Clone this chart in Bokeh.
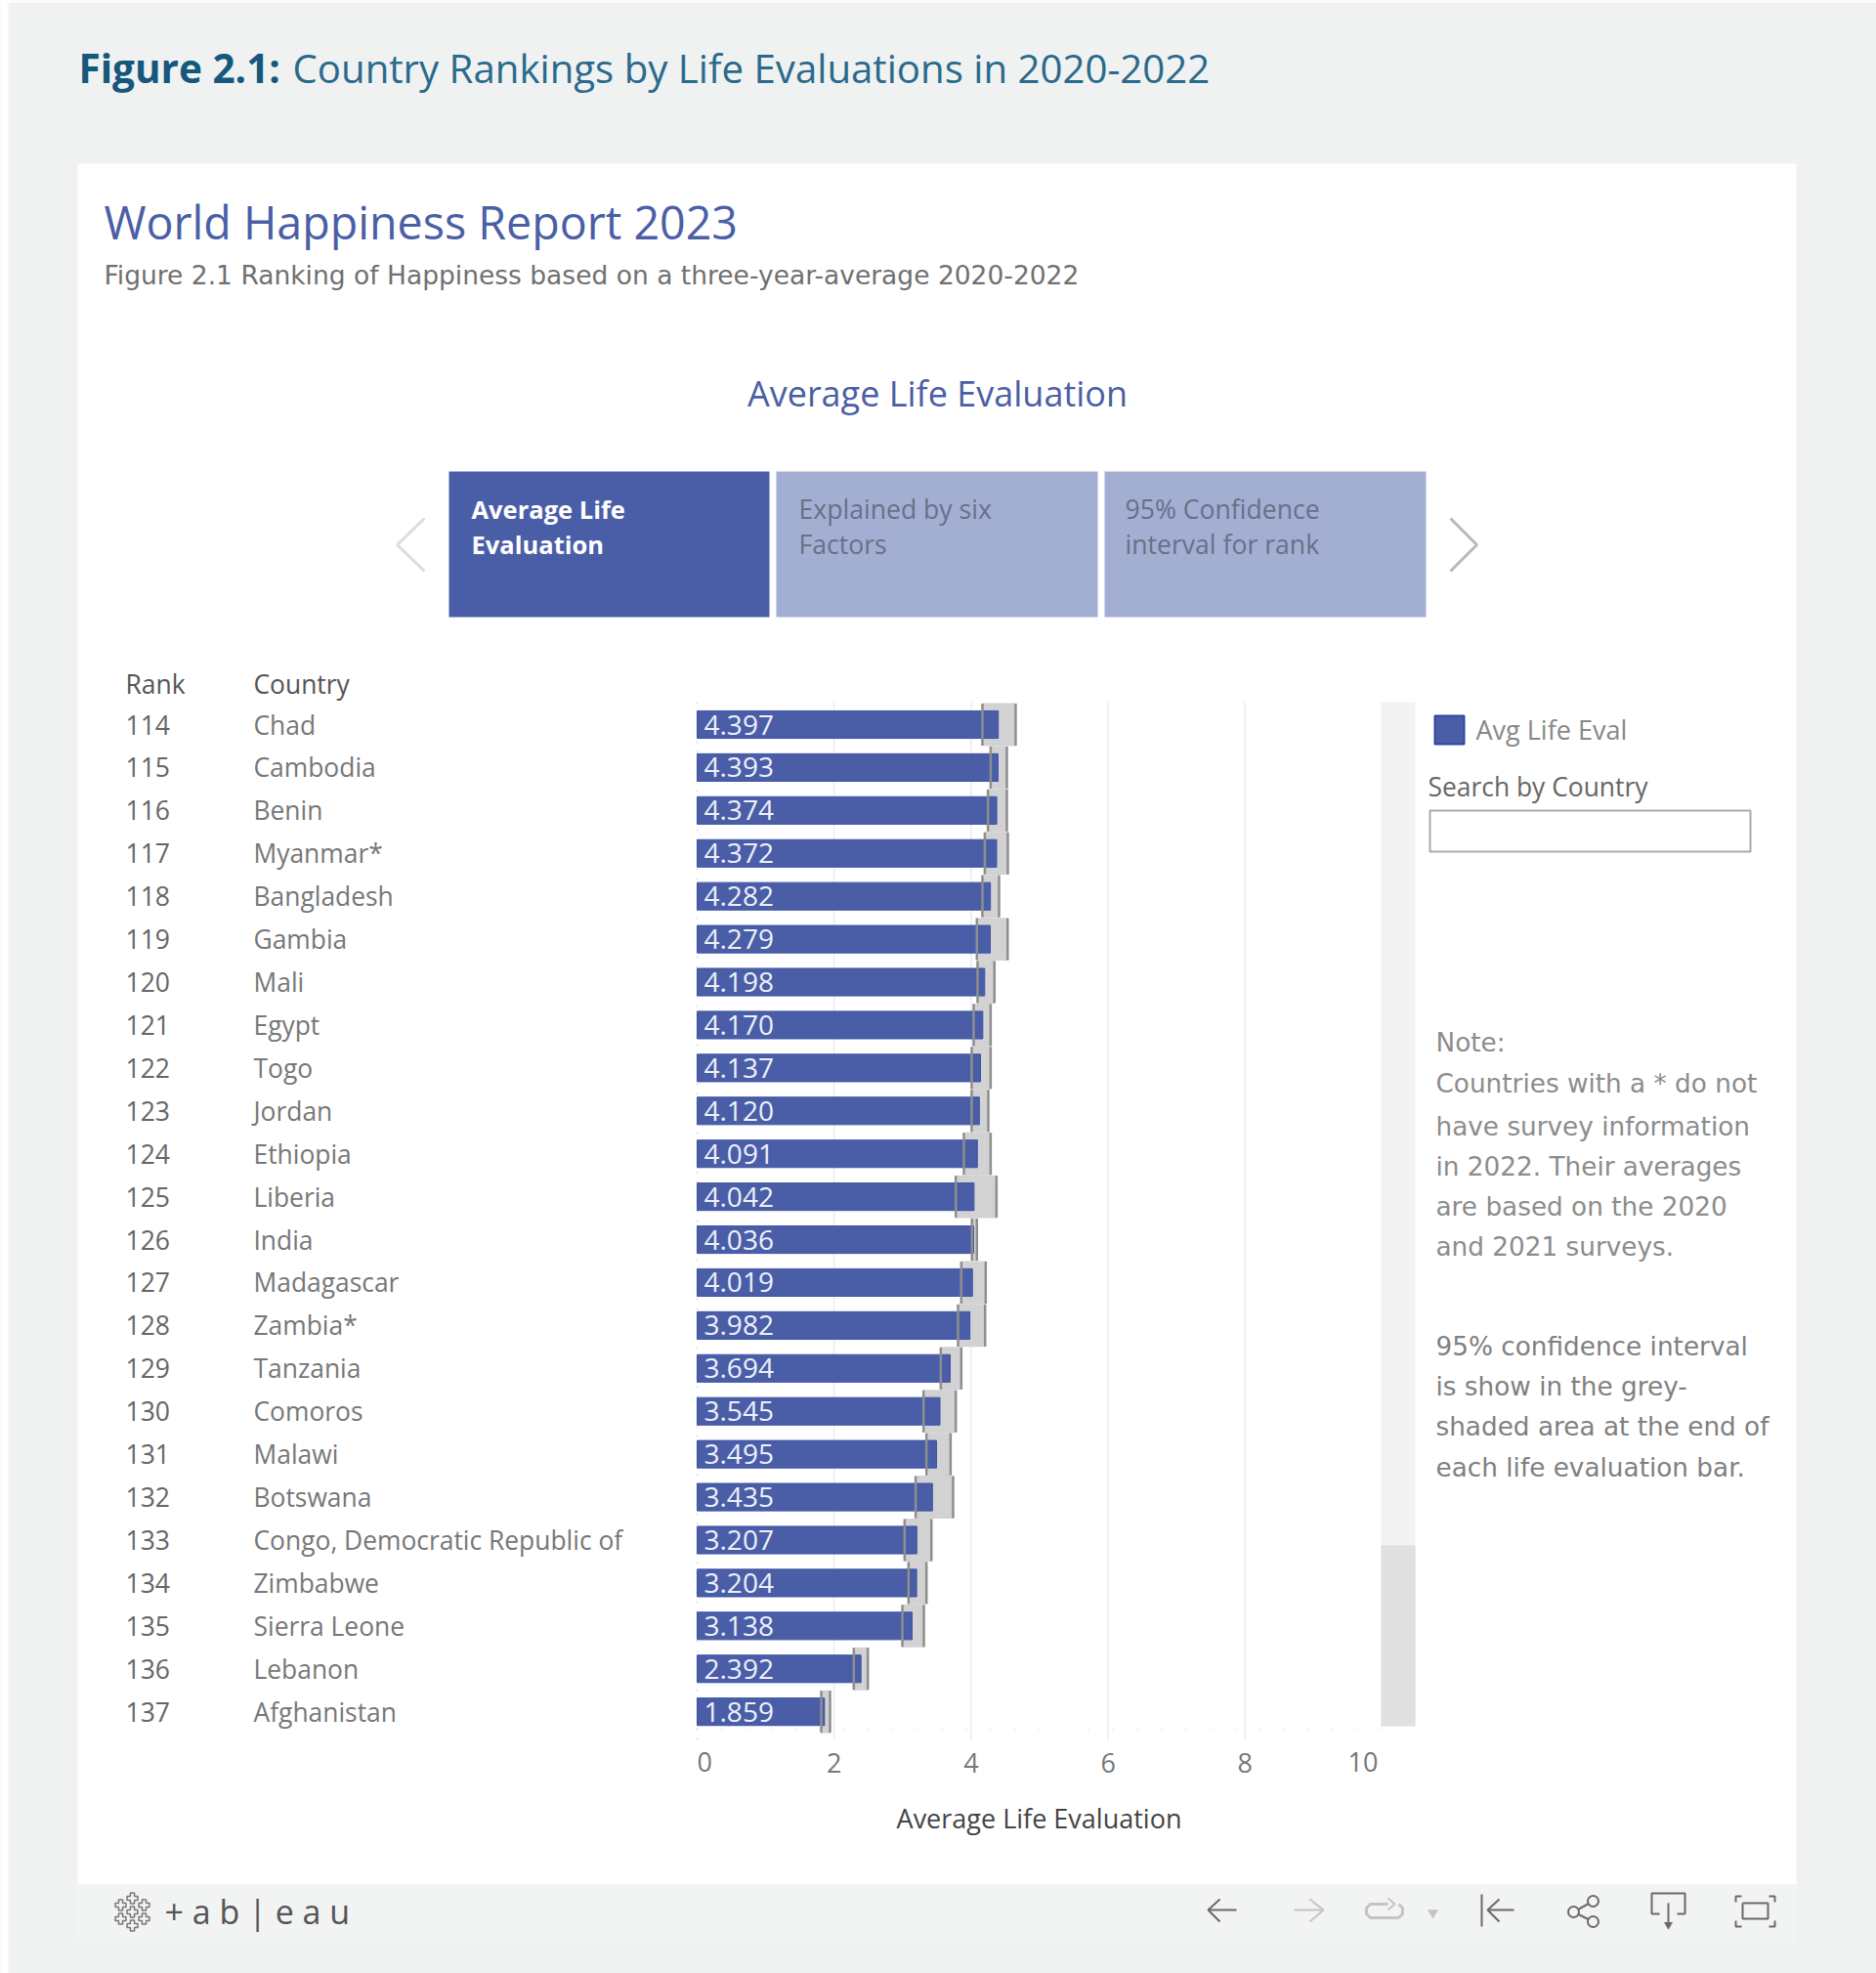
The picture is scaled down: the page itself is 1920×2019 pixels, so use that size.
from bokeh.plotting import figure
from bokeh.models import Range1d, LinearAxis, FixedTicker
from bokeh.core.properties import value
from bokeh.embed import file_html
from bokeh.resources import INLINE
import numpy as np

ranks = list(range(114, 138))
countries = ["Chad", "Cambodia", "Benin", "Myanmar*", "Bangladesh", "Gambia", "Mali", "Egypt", "Togo",
             "Jordan", "Ethiopia", "Liberia", "India", "Madagascar", "Zambia*", "Tanzania", "Comoros",
             "Malawi", "Botswana", "Congo, Democratic Republic of", "Zimbabwe", "Sierra Leone", "Lebanon",
             "Afghanistan"]
life_eval = [4.397, 4.393, 4.374, 4.372, 4.282, 4.279, 4.198, 4.170, 4.137, 4.120, 4.091, 4.042,
             4.036, 4.019, 3.982, 3.694, 3.545, 3.495, 3.435, 3.207, 3.204, 3.138, 2.392, 1.859]
ci_low = [4.165, 4.285, 4.246, 4.200, 4.165, 4.084, 4.094, 4.037, 4.008, 4.008, 3.894, 3.776,
          4.013, 3.856, 3.809, 3.557, 3.305, 3.348, 3.190, 3.029, 3.086, 2.996, 2.287, 1.812]
ci_high = [4.650, 4.522, 4.522, 4.536, 4.408, 4.533, 4.340, 4.285, 4.285, 4.251, 4.285, 4.370,
           4.084, 4.213, 4.204, 3.856, 3.776, 3.700, 3.737, 3.420, 3.348, 3.310, 2.492, 1.940]
mid_ticks = [2, 4, 6, 8]
first_tick = [0]
last_tick = [10]
note_lines = ["Note:", "Countries with a * do not", "have survey information", "in 2022. Their averages",
              "are based on the 2020", "and 2021 surveys."]
ci_lines = ["95% confidence interval", "is show in the grey-", "shaded area at the end of",
            "each life evaluation bar."]

BG = "#f0f2f2"
BLUE = "#4a5ea8"
PALE = "#a3aed3"
FONT = "Open Sans"
WIDE = "DejaVu Sans"

# Page geometry: screen pixels of the x=0 gridline and of the first row
X0, PX_PER_UNIT = 713.0, 70.1
Y0, PX_PER_RANK = 741.0, 43.92
L, T, R, B = 0, 0, 1920, 2019


def rank_at(px):
    return ranks[0] + (px - Y0) / PX_PER_RANK


p = figure(width=R - L, height=B - T, output_backend="svg", toolbar_location=None,
           x_range=Range1d((L - X0) / PX_PER_UNIT, (R - X0) / PX_PER_UNIT),
           y_range=Range1d(rank_at(B), rank_at(T)),
           x_axis_type=None, y_axis_type=None, min_border=0,
           background_fill_color=BG, border_fill_color=BG, outline_line_color=None)
p.grid.visible = False
p.extra_x_ranges["px"] = Range1d(L, R)
p.extra_y_ranges["px"] = Range1d(B, T)
PX = dict(x_range_name="px", y_range_name="px")


def box(x0, y0, x1, y1, fill, line=None, width=1):
    p.quad(left=[x0], right=[x1], top=[y0], bottom=[y1], fill_color=fill,
           line_color=line, line_width=width, **PX)


def txt(x, y, s, size, color, style="normal", align="left", font=FONT):
    p.text(x=[x], y=[y], text=[s], text_font=value(font), text_font_size=f"{size}px",
           text_color=color, text_font_style=style, text_align=align,
           text_baseline="middle", **PX)


def path(xs, ys, color, width=2):
    p.line(xs, ys, line_color=color, line_width=width, **PX)


# Panels
box(0, 0, 8, 2019, "#ffffff")
box(0, 0, 1920, 2, "#ffffff")
box(79, 167, 1838, 1928, "#ffffff")
box(79, 1928, 1838, 1987, "#f2f3f3")

# Headings
txt(80, 69, "Figure 2.1:", 40.5, "#15587d", "bold")
txt(299, 69, "Country Rankings by Life Evaluations in 2020-2022", 40.2, "#2a6a8c")
txt(106, 226, "World Happiness Report 2023", 46.6, "#4a5fa5")
txt(106, 281, "Figure 2.1 Ranking of Happiness based on a three-year-average 2020-2022", 26.5, "#707070",
    font=WIDE)
txt(959, 402, "Average Life Evaluation", 36, "#4a5fa5", align="center")

# Tabs
box(459, 482, 787, 631, BLUE)
box(794, 482, 1123, 631, PALE)
box(1130, 482, 1459, 631, PALE)
txt(482, 520, "Average Life", 25.5, "#ffffff", "bold")
txt(482, 556, "Evaluation", 25.5, "#ffffff", "bold")
txt(817, 520, "Explained by six", 26.6, "#687088")
txt(817, 556, "Factors", 26.6, "#687088")
txt(1151, 520, "95% Confidence", 26.6, "#687088")
txt(1151, 556, "interval for rank", 26.6, "#687088")
path([434, 406, 434], [530, 557, 584], "#dcdcdc", 3)
path([1484, 1511, 1484], [530, 557, 584], "#b8b8b8", 3)

# Table
txt(128, 699, "Rank", 26.4, "#555555")
txt(259, 699, "Country", 26.4, "#555555")
p.text(x=[128] * len(ranks), y=ranks, text=[str(r) for r in ranks], text_font=value(FONT),
       text_font_size="26.5px", text_color="#666666", text_baseline="middle", x_range_name="px")
p.text(x=[259] * len(ranks), y=ranks, text=countries, text_font=value(FONT),
       text_font_size="26.4px", text_color="#777777", text_baseline="middle", x_range_name="px")

# Scrollbar
box(1413, 718, 1448, 1766, "#f3f3f3")
box(1413, 1581, 1448, 1766, "#e0e0e0")

# Gridlines
grid_y0, grid_y1 = rank_at(718), rank_at(1780)
grid_x = mid_ticks
p.segment(x0=grid_x, x1=grid_x, y0=[grid_y0] * len(grid_x), y1=[grid_y1] * len(grid_x),
          line_color="#f0f0f0", line_width=2)
p.segment(x0=first_tick, x1=first_tick, y0=[grid_y0], y1=[grid_y1],
          line_color="#e4e4e4", line_width=2, line_dash="2 8")
p.segment(x0=first_tick, x1=last_tick, y0=[rank_at(1769)], y1=[rank_at(1769)],
          line_color="#e6e6e6", line_width=2, line_dash="1 24")

# Confidence bands, bars, band edges
y = np.array(ranks, dtype=float)
p.hbar(y=ranks, left=ci_low, right=ci_high, height=1.0, fill_color="#d2d2d2", line_color=None)
p.hbar(y=ranks, left=0, right=life_eval, height=0.64, fill_color=BLUE, line_color="#3d52a4", line_width=1)
for edge in (ci_low, ci_high):
    p.segment(x0=edge, x1=edge, y0=y - 0.49, y1=y + 0.49, line_color="#8e8e8e", line_width=2.5)
p.text(x=[720] * len(ranks), y=ranks, text=[f"{v:.3f}" for v in life_eval], text_font=value(FONT),
       text_font_size="28px", text_color="#eef0f8", text_baseline="middle", x_range_name="px")

# Value axis; its end labels stay inside the plot area, as in the reference
ax = LinearAxis(ticker=FixedTicker(ticks=mid_ticks), fixed_location=rank_at(1769))
ax.major_tick_line_color = None
ax.minor_tick_line_color = None
ax.axis_line_color = None
ax.major_label_text_font = FONT
ax.major_label_text_font_size = "27px"
ax.major_label_text_color = "#777777"
ax.major_label_standoff = 18
p.add_layout(ax, "below")
for ticks, align, shift in ((first_tick, "left", 0), (last_tick, "right", -4)):
    p.text(x=ticks, y=[rank_at(1802)], text=[str(t) for t in ticks], text_font=value(FONT),
           text_font_size="27px", text_color="#777777", text_align=align, text_baseline="middle",
           x_offset=shift)
txt(1063, 1860, "Average Life Evaluation", 27, "#444444", align="center")

# Legend, search box, notes
box(1468, 732, 1498, 761, BLUE, "#2f469f", 2)
txt(1510, 746, "Avg Life Eval", 27, "#888888")
txt(1461, 804, "Search by Country", 26.4, "#666666")
box(1463, 829, 1791, 871, "#ffffff", "#aaaaaa", 2)
for yy, line in zip([1066, 1108, 1152, 1193, 1234, 1275], note_lines):
    txt(1469, yy, line, 26.3, "#8c8c8c", font=WIDE)
for yy, line in zip([1377, 1418, 1459, 1501], ci_lines):
    txt(1469, yy, line, 26.3, "#808080", font=WIDE)

# Tableau footer
for dx, dy in [(0, 0), (0, -14), (0, 14), (-12, -7), (12, -7), (-12, 7), (12, 7)]:
    p.scatter([135 + dx], [1956 + dy], marker="plus", size=11, line_color="#777777", fill_color=None,
              line_width=1.5, **PX)
txt(168, 1955, "+ a b | e a u", 34, "#555555")

c1, c2 = "#6a6a6a", "#c4c4c4"
path([1248, 1236, 1248], [1943, 1954, 1966], c1)
path([1236, 1265], [1954, 1954], c1)
path([1340, 1354, 1340], [1943, 1954, 1966], c2)
path([1324, 1354], [1954, 1954], c2)
path([1420, 1402, 1398, 1398, 1402, 1431, 1435, 1435, 1431], [1948, 1948, 1952, 1958, 1962, 1962, 1958, 1952, 1948], c2, 3)
path([1420, 1427, 1420], [1942, 1948, 1954], c2)
p.scatter([1466], [1957], marker="inverted_triangle", size=11, fill_color=c2, line_color=None, **PX)
path([1516, 1516], [1938, 1971], c1)
path([1534, 1522, 1534], [1943, 1954, 1966], c1)
path([1522, 1549], [1954, 1954], c1)
path([1630, 1610, 1630], [1945, 1956, 1966], c1)
p.scatter([1610, 1630, 1630], [1956, 1945, 1966], marker="circle", size=11, fill_color="#f2f3f3",
          line_color=c1, line_width=2, **PX)
path([1698, 1690, 1690, 1724, 1724, 1716], [1958, 1958, 1937, 1937, 1958, 1958], c1)
path([1707, 1707], [1947, 1971], c1)
p.scatter([1707], [1969], marker="inverted_triangle", size=9, fill_color=c1, line_color=None, **PX)
path([1782, 1776, 1776], [1940, 1940, 1946], c1)
path([1810, 1816, 1816], [1940, 1940, 1946], c1)
path([1782, 1776, 1776], [1971, 1971, 1965], c1)
path([1810, 1816, 1816], [1971, 1971, 1965], c1)
path([1783, 1809, 1809, 1783, 1783], [1947, 1947, 1963, 1963, 1947], c1)

open("out.html", "w").write(file_html(p, INLINE))
